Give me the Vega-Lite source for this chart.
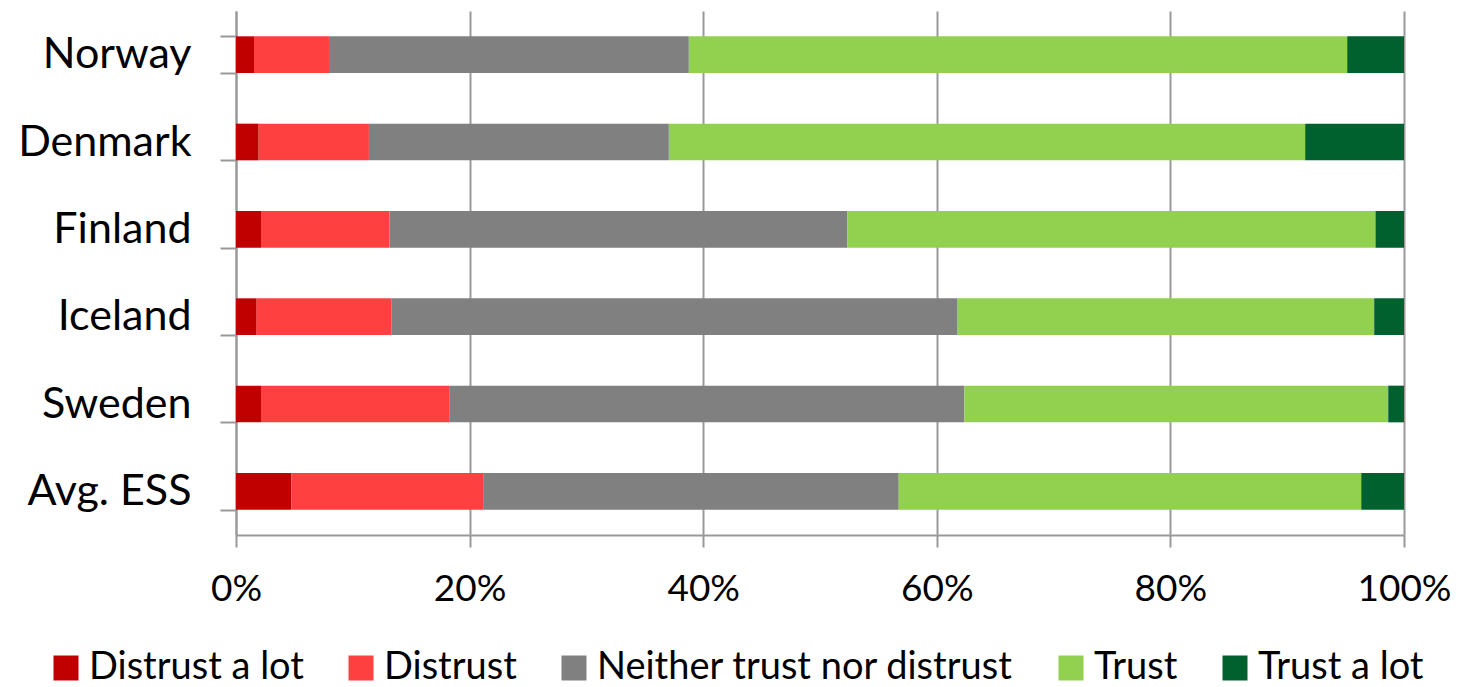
{
  "$schema": "https://vega.github.io/schema/vega-lite/v6.json",
  "autosize": {"type": "none"},
  "width": 1168,
  "height": 524,
  "padding": {"left": 236, "top": 11, "right": 56, "bottom": 152},
  "background": "white",
  "config": {
    "view": {"stroke": null},
    "font": "Lato"
  },
  "data": {
    "values": [
      {"country": "Norway", "answer": "Distrust a lot", "k": 1, "share": 1.54},
      {"country": "Norway", "answer": "Distrust", "k": 2, "share": 6.42},
      {"country": "Norway", "answer": "Neither trust nor distrust", "k": 3, "share": 30.81},
      {"country": "Norway", "answer": "Trust", "k": 4, "share": 56.37},
      {"country": "Norway", "answer": "Trust a lot", "k": 5, "share": 4.86},
      {"country": "Denmark", "answer": "Distrust a lot", "k": 1, "share": 1.94},
      {"country": "Denmark", "answer": "Distrust", "k": 2, "share": 9.44},
      {"country": "Denmark", "answer": "Neither trust nor distrust", "k": 3, "share": 25.68},
      {"country": "Denmark", "answer": "Trust", "k": 4, "share": 54.48},
      {"country": "Denmark", "answer": "Trust a lot", "k": 5, "share": 8.46},
      {"country": "Finland", "answer": "Distrust a lot", "k": 1, "share": 2.14},
      {"country": "Finland", "answer": "Distrust", "k": 2, "share": 11.01},
      {"country": "Finland", "answer": "Neither trust nor distrust", "k": 3, "share": 39.2},
      {"country": "Finland", "answer": "Trust", "k": 4, "share": 45.21},
      {"country": "Finland", "answer": "Trust a lot", "k": 5, "share": 2.44},
      {"country": "Iceland", "answer": "Distrust a lot", "k": 1, "share": 1.77},
      {"country": "Iceland", "answer": "Distrust", "k": 2, "share": 11.52},
      {"country": "Iceland", "answer": "Neither trust nor distrust", "k": 3, "share": 48.44},
      {"country": "Iceland", "answer": "Trust", "k": 4, "share": 35.72},
      {"country": "Iceland", "answer": "Trust a lot", "k": 5, "share": 2.55},
      {"country": "Sweden", "answer": "Distrust a lot", "k": 1, "share": 2.14},
      {"country": "Sweden", "answer": "Distrust", "k": 2, "share": 16.11},
      {"country": "Sweden", "answer": "Neither trust nor distrust", "k": 3, "share": 44.11},
      {"country": "Sweden", "answer": "Trust", "k": 4, "share": 36.29},
      {"country": "Sweden", "answer": "Trust a lot", "k": 5, "share": 1.35},
      {"country": "Avg. ESS", "answer": "Distrust a lot", "k": 1, "share": 4.73},
      {"country": "Avg. ESS", "answer": "Distrust", "k": 2, "share": 16.43},
      {"country": "Avg. ESS", "answer": "Neither trust nor distrust", "k": 3, "share": 35.58},
      {"country": "Avg. ESS", "answer": "Trust", "k": 4, "share": 39.6},
      {"country": "Avg. ESS", "answer": "Trust a lot", "k": 5, "share": 3.66}
    ]
  },
  "mark": {"type": "bar"},
  "encoding": {
    "y": {
      "field": "country",
      "type": "nominal",
      "sort": ["Norway", "Denmark", "Finland", "Iceland", "Sweden", "Avg. ESS"],
      "scale": {"paddingInner": 0.58, "paddingOuter": 0.29},
      "axis": {
        "title": null,
        "domainColor": "#999999",
        "domainWidth": 2,
        "tickColor": "#999999",
        "tickWidth": 2,
        "tickSize": 16,
        "tickBand": "extent",
        "labelFontSize": 43,
        "labelColor": "#000000",
        "labelPadding": 29,
        "grid": false
      }
    },
    "x": {
      "field": "share",
      "type": "quantitative",
      "stack": "normalize",
      "scale": {"domain": [0, 1], "nice": false},
      "axis": {
        "title": null,
        "format": ".0%",
        "values": [0, 0.2, 0.4, 0.6, 0.8, 1],
        "grid": true,
        "gridColor": "#999999",
        "gridWidth": 2,
        "domainColor": "#999999",
        "domainWidth": 2,
        "tickColor": "#999999",
        "tickWidth": 2,
        "tickSize": 12,
        "labelFontSize": 37,
        "labelColor": "#000000",
        "labelPadding": 24,
        "labelFlush": false,
        "labelOverlap": false
      }
    },
    "order": {"field": "k", "type": "quantitative"},
    "color": {
      "field": "answer",
      "type": "nominal",
      "sort": ["Distrust a lot", "Distrust", "Neither trust nor distrust", "Trust", "Trust a lot"],
      "scale": {
        "domain": ["Distrust a lot", "Distrust", "Neither trust nor distrust", "Trust", "Trust a lot"],
        "range": ["#C00000", "#FF4040", "#808080", "#92D050", "#00612E"]
      },
      "legend": {
        "title": null,
        "orient": "none",
        "direction": "horizontal",
        "legendX": -189,
        "legendY": 638,
        "padding": 0,
        "symbolType": "square",
        "symbolSize": 625,
        "symbolStrokeWidth": 0,
        "symbolOffset": 0,
        "labelFontSize": 38,
        "labelColor": "#000000",
        "labelOffset": 4,
        "columnPadding": 38,
        "labelLimit": 600
      }
    }
  }
}
